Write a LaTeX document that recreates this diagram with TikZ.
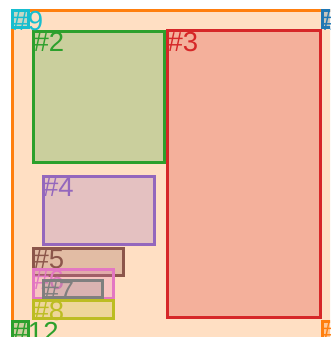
\documentclass[tikz,border=0pt]{standalone}
\usepackage{fontspec}
\setmainfont{Liberation Sans}
\definecolor{tabblue}{HTML}{1F77B4}
\definecolor{taborange}{HTML}{FF7F0E}
\definecolor{tabgreen}{HTML}{2CA02C}
\definecolor{tabred}{HTML}{D62728}
\definecolor{tabpurple}{HTML}{9467BD}
\definecolor{tabbrown}{HTML}{8C564B}
\definecolor{tabpink}{HTML}{E377C2}
\definecolor{tabgray}{HTML}{7F7F7F}
\definecolor{tabolive}{HTML}{BCBD22}
\definecolor{tabcyan}{HTML}{17BECF}
\begin{document}
\begin{tikzpicture}[x=1pt,y=-1pt,
  box/.style={draw=#1, fill=#1, fill opacity=0.25, line width=3pt},
  lab/.style={anchor=north west, inner sep=0pt, text=#1, font=\fontsize{27.5}{27.5}\selectfont}]
\useasboundingbox (0,0) rectangle (330,337);
\clip (0,0) rectangle (330,337);
% #1
\draw[box=taborange] (12.5,10.5) rectangle (345,350);
% #2
\draw[box=tabgreen] (33.5,31.5) rectangle (164.5,162.5);
\node[lab=tabgreen] (l2) at (33.5,32) {\#2};
% #3
\draw[box=tabred] (167.5,31) rectangle (320.5,317.5);
\node[lab=tabred] (l3) at (167.5,32) {\#3};
% #4
\draw[box=tabpurple] (43,176) rectangle (154,244);
\node[lab=tabpurple] (l4) at (43,177) {\#4};
% #5
\draw[box=tabbrown] (33.5,248) rectangle (123.5,275.5);
\node[lab=tabbrown] (l5) at (33.5,249) {\#5};
% #6
\draw[box=tabpink] (33.5,269) rectangle (113.5,298);
\node[lab=tabpink] (l6) at (33.5,270) {\#6};
% #7
\draw[box=tabgray] (43.5,280) rectangle (102.5,297);
\node[lab=tabgray] (l7) at (43.5,281) {\#7};
% #8
\draw[box=tabolive] (33.5,300) rectangle (113.5,318);
\node[lab=tabolive] (l8) at (33.5,301) {\#8};
% #9
\draw[box=tabcyan] (12.5,10.5) rectangle (28.5,28);
\node[lab=tabcyan] (l9) at (12.5,11.5) {\#9};
% #10
\draw[box=tabblue] (322.5,10.5) rectangle (338.5,28);
\node[lab=tabblue] (l10) at (322.5,11.5) {\#10};
% #11
\draw[box=taborange] (322.5,321) rectangle (338.5,338.5);
\node[lab=taborange] (l11) at (322.5,322) {\#11};
% #12
\draw[box=tabgreen] (12.5,321) rectangle (28.5,338.5);
\node[lab=tabgreen] (l12) at (12.5,322) {\#12};
\end{tikzpicture}
\end{document}
